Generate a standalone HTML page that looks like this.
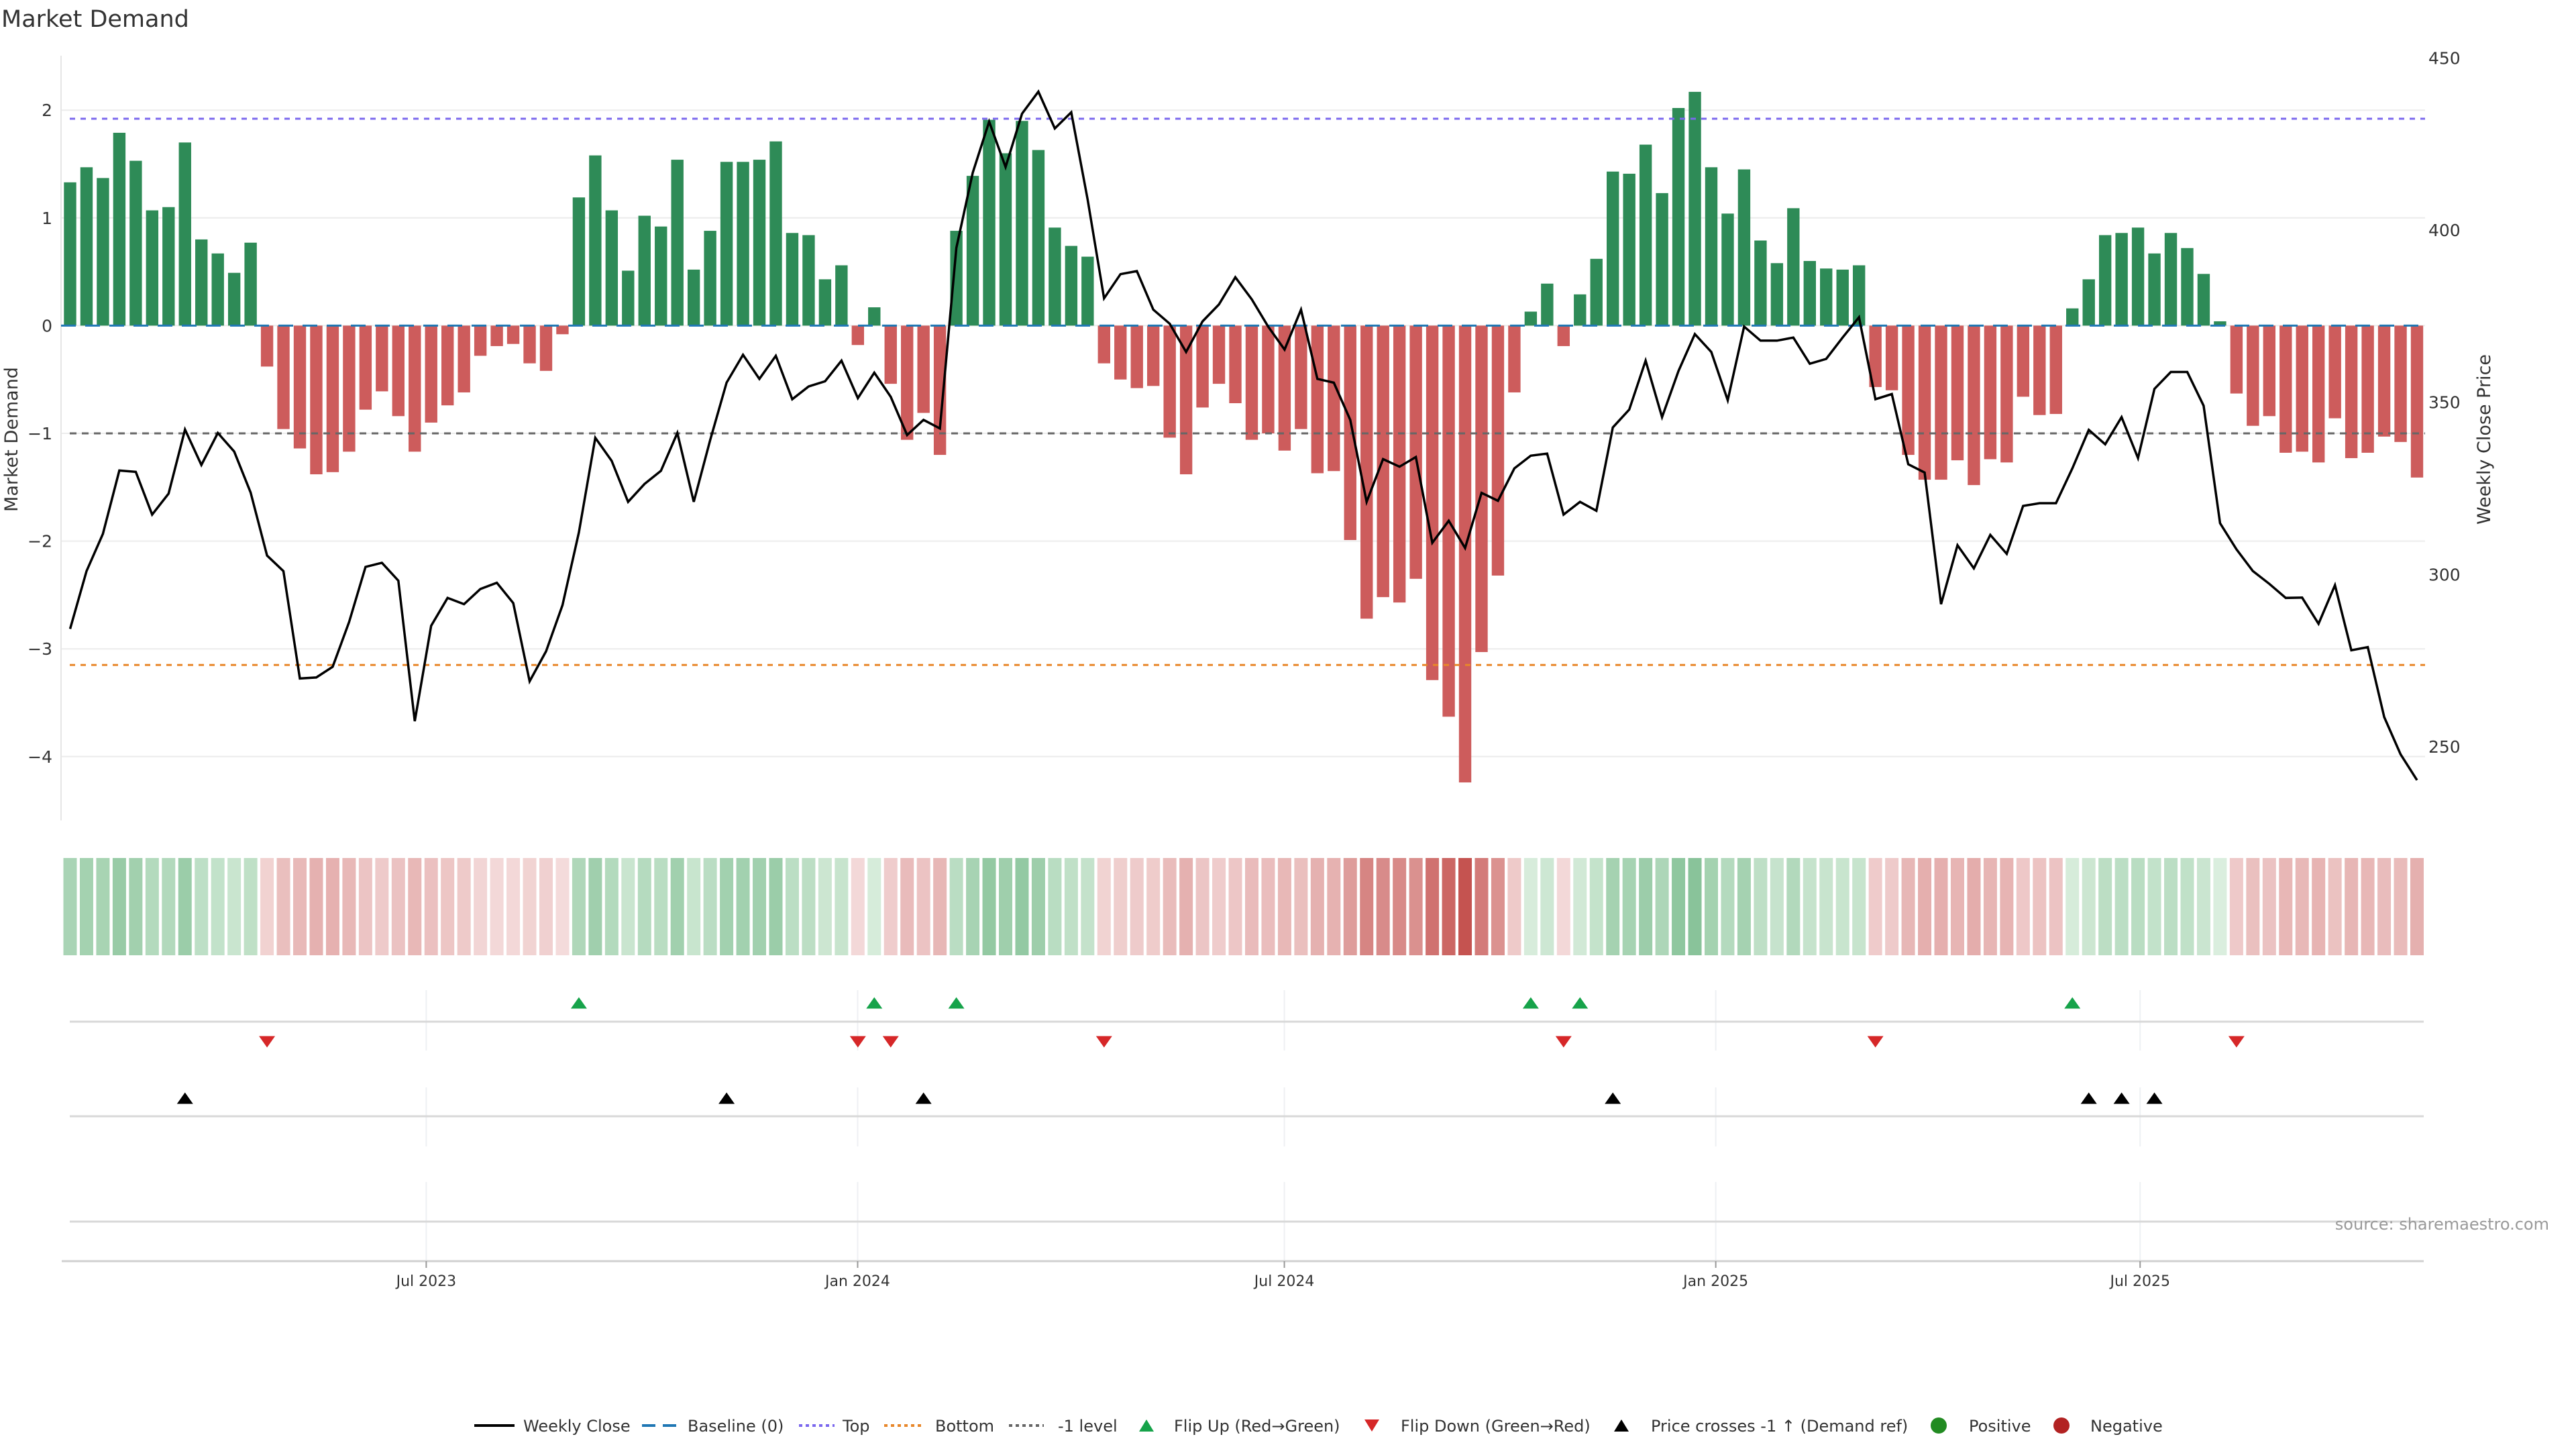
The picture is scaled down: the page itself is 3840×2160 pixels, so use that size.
<!DOCTYPE html>
<html><head><meta charset="utf-8"><title>Market Demand</title>
<style>
html,body{margin:0;padding:0;background:#fff;}
svg{display:block;font-family:"DejaVu Sans","Liberation Sans",sans-serif;}
</style></head>
<body>
<svg id="chart" width="3840" height="2160" viewBox="0 0 3840 2160" xmlns="http://www.w3.org/2000/svg">
<rect x="0" y="0" width="3840" height="2160" fill="#ffffff"/>
<text x="2" y="40" font-size="35" fill="#333">Market Demand</text>
<g id="grid"></g>
<g id="bars"></g>
<g id="refs"></g>
<g id="line"></g>
<g id="axes"></g>
<g id="heat"></g>
<g id="events"></g>
<g id="xaxis"></g>
<text x="3800" y="1833" font-size="24" fill="#999" text-anchor="end">source: sharemaestro.com</text>
<text transform="translate(26,655) rotate(-90)" font-size="27" fill="#333" text-anchor="middle">Market Demand</text>
<text transform="translate(3712,655) rotate(-90)" font-size="27" fill="#333" text-anchor="middle">Weekly Close Price</text>
<g id="legend"></g>
</svg>
<script>
const demand = [1.33,1.47,1.37,1.79,1.53,1.07,1.10,1.70,0.80,0.67,0.49,0.77,
-0.38,-0.96,-1.14,-1.38,-1.36,-1.17,-0.78,-0.61,-0.84,-1.17,-0.90,-0.74,-0.62,-0.28,-0.19,-0.17,-0.35,-0.42,-0.08,
1.19,1.58,1.07,0.51,1.02,0.92,1.54,0.52,0.88,1.52,1.52,1.54,1.71,0.86,0.84,0.43,0.56,
-0.18,0.17,-0.54,-1.06,-0.81,-1.20,
0.88,1.39,1.91,1.60,1.90,1.63,0.91,0.74,0.64,
-0.35,-0.50,-0.58,-0.56,-1.04,-1.38,-0.76,-0.54,-0.72,-1.06,-1.00,-1.16,-0.96,-1.37,-1.35,-1.99,-2.72,-2.52,-2.57,-2.35,-3.29,-3.63,-4.24,-3.03,-2.32,-0.62,
0.13,0.39,-0.19,0.29,0.62,1.43,1.41,1.68,1.23,2.02,2.17,1.47,1.04,1.45,0.79,0.58,1.09,0.60,0.53,0.52,0.56,
-0.57,-0.60,-1.20,-1.43,-1.43,-1.25,-1.48,-1.24,-1.27,-0.66,-0.83,-0.82,
0.16,0.43,0.84,0.86,0.91,0.67,0.86,0.72,0.48,0.04,
-0.63,-0.93,-0.84,-1.18,-1.17,-1.27,-0.86,-1.23,-1.18,-1.03,-1.08,-1.41];
const price = [284.2,301.0,311.8,330.2,329.8,317.4,323.5,342.1,331.8,341.1,335.7,323.8,305.5,301.0,269.8,270.1,273.2,286.2,302.2,303.4,298.2,257.4,285.1,293.2,291.4,295.8,297.6,291.7,269.0,277.7,291.1,312.2,339.7,333.0,321.1,326.3,330.1,341.1,321.1,339.0,355.7,363.8,356.8,363.5,350.9,354.6,356.1,362.1,351.2,358.6,351.6,340.5,344.9,342.4,394.8,416.7,431.5,418.3,433.8,440.2,429.5,434.2,408.9,380.2,387.2,388.1,376.9,372.8,364.6,373.5,378.4,386.3,379.9,372.0,365.3,376.9,356.8,355.7,344.9,321.1,333.5,331.3,334.1,309.2,315.6,307.7,323.7,321.4,330.8,334.5,335.1,317.4,321.1,318.5,342.7,347.9,362.1,345.7,359.1,369.8,364.6,350.6,372.0,367.9,367.9,368.8,361.2,362.6,368.8,374.7,350.9,352.4,332.0,329.6,291.4,308.5,301.8,311.5,306.0,319.9,320.7,320.7,330.8,342.0,337.8,345.7,333.8,353.9,358.8,358.8,349.0,314.9,307.3,301.0,297.3,293.2,293.3,285.7,296.9,278.0,278.9,258.6,247.8,240.3];
const flipUp = [32,50,55,90,93,123];
const flipDown = [13,49,51,64,92,111,133];
const priceCross = [8,41,53,95,124,126,128];
const leftTicks = [2,1,0,-1,-2,-3,-4];
const leftTickLabels = ["2","1","0","\u22121","\u22122","\u22123","\u22124"];
const rightTicks = [450,400,350,300,250];
const xTickLabels = ["Jul 2023","Jan 2024","Jul 2024","Jan 2025","Jul 2025"];
const xTickDates = ["2023-07-01","2024-01-01","2024-07-01","2025-01-01","2025-07-01"];
const refTop = 1.92, refBottom = -3.15, refMinus1 = -1;

const NS = "http://www.w3.org/2000/svg";
function mk(tag, attrs, parent){const e=document.createElementNS(NS,tag);for(const k in attrs)e.setAttribute(k,attrs[k]);parent.appendChild(e);return e;}
const X0 = 104.5, STEP = 24.465;
function xBar(i){return X0 + STEP*i;}
function yL(v){return 485.4 - v*160.6;}
function yR(p){return 343 - (p-400)*5.134;}
const startMs = Date.UTC(2023,6,1) - 151.9*86400000;
function xDate(s){const d=new Date(s+"T00:00:00Z").getTime();return X0 + (d-startMs)/86400000/7*STEP;}
const PL=91, PR=3615;

const grid=document.getElementById('grid');
leftTicks.forEach((t,k)=>{
  const g=mk('line',{x1:PL,x2:PR,y1:yL(t),y2:yL(t),stroke:'#ececec','stroke-width':2},grid);
  
  
});
const spine=mk('line',{x1:PL,x2:PL,y1:83,y2:1223,stroke:'#e6e6e6','stroke-width':2},grid);



const bars=document.getElementById('bars');
demand.forEach((v,i)=>{
  const y0=yL(0), y1=yL(v);
  const r=mk('rect',{x:xBar(i)-9.2,width:18.4,y:Math.min(y0,y1),height:Math.abs(y1-y0),fill:v>=0?'#2e8b57':'#cd5c5c'},bars);
  
  
});

const refs=document.getElementById('refs');
let rl=mk('line',{x1:PL,x2:PR,y1:yL(0),y2:yL(0),stroke:'#1f77b4','stroke-width':3,'stroke-dasharray':'22 14'},refs);


rl=mk('line',{x1:104,x2:PR,y1:yL(refTop),y2:yL(refTop),stroke:'#7b68ee','stroke-width':3,'stroke-dasharray':'8 8'},refs);


rl=mk('line',{x1:104,x2:PR,y1:yL(refBottom),y2:yL(refBottom),stroke:'#e8872a','stroke-width':3,'stroke-dasharray':'8 8'},refs);


rl=mk('line',{x1:104,x2:PR,y1:yL(refMinus1),y2:yL(refMinus1),stroke:'#666','stroke-width':3,'stroke-dasharray':'10 8'},refs);



const lineG=document.getElementById('line');
const pts=price.map((p,i)=>xBar(i).toFixed(1)+','+yR(p).toFixed(1)).join(' ');
const pl=mk('polyline',{points:pts,fill:'none',stroke:'#000','stroke-width':3.5,'stroke-linejoin':'miter'},lineG);



const axes=document.getElementById('axes');
leftTicks.forEach((t,k)=>{
  const tx=mk('text',{x:78,y:yL(t)+9,'font-size':25,fill:'#333','text-anchor':'end'},axes);
  tx.textContent=leftTickLabels[k];
  
  
});
rightTicks.forEach(t=>{
  const tx=mk('text',{x:3620,y:yR(t)+9,'font-size':25,fill:'#333'},axes);
  tx.textContent=String(t);
  
  
});

function lerp(a,b,t){return a.map((c,j)=>Math.round(c+(b[j]-c)*t));}
const heat=document.getElementById('heat');
demand.forEach((v,i)=>{
  const t=Math.min(1,Math.abs(v)/4.24);
  const c=v>=0?lerp([220,239,223],[58,154,88],t):lerp([245,222,222],[197,83,80],t);
  const r=mk('rect',{x:xBar(i)-10,width:20,y:1279,height:145,fill:'rgb('+c.join(',')+')'},heat);
  
  
});

const ev=document.getElementById('events');
const rowSegs=[[1476,1566],[1621,1709],[1762,1880]];
xTickDates.forEach(d=>{
  rowSegs.forEach(s=>{
    const l=mk('line',{x1:xDate(d),x2:xDate(d),y1:s[0],y2:s[1],stroke:'#eef0f3','stroke-width':2},ev);
    
    
  });
});
[1523,1664,1821].forEach(y=>{
  const l=mk('line',{x1:104,x2:3613,y1:y,y2:y,stroke:'#d8d8d8','stroke-width':3},ev);
  
  
});
function tri(cx,cy,up,fill,name){
  const w=12,h=17;
  const p=up?`${cx-w},${cy+h/2} ${cx+w},${cy+h/2} ${cx},${cy-h/2}`:`${cx-w},${cy-h/2} ${cx+w},${cy-h/2} ${cx},${cy+h/2}`;
  const e=mk('polygon',{points:p,fill:fill},ev);
  
  
}
flipUp.forEach(i=>tri(xBar(i-1),1495,true,'#16a34a','flip-up-marker'));
flipDown.forEach(i=>tri(xBar(i-1),1553,false,'#d62728','flip-down-marker'));
priceCross.forEach(i=>tri(xBar(i-1),1637,true,'#000','price-cross-marker'));

const xa=document.getElementById('xaxis');
const ax=mk('line',{x1:92,x2:3613,y1:1880,y2:1880,stroke:'#d0d0d0','stroke-width':3},xa);


xTickDates.forEach((d,k)=>{
  const x=xDate(d);
  const tk=mk('line',{x1:x,x2:x,y1:1880,y2:1890,stroke:'#999','stroke-width':2},xa);
  
  
  const tx=mk('text',{x:x,y:1917,'font-size':22,fill:'#333','text-anchor':'middle'},xa);
  tx.textContent=xTickLabels[k];
  
  
});

const lg=document.getElementById('legend');
const LY=2125;
function ltext(x,s){const t=mk('text',{x:x,y:LY+9,'font-size':24,fill:'#333'},lg);t.textContent=s;}
function lline(x1,x2,color,dash,w){const l=mk('line',{x1:x1,x2:x2,y1:LY,y2:LY,stroke:color,'stroke-width':w,'stroke-dasharray':dash},lg);}
lline(707,767,'#000','none',4); ltext(780,'Weekly Close');
lline(957,1008,'#1f77b4','20 11',4); ltext(1025,'Baseline (0)');
lline(1191,1244,'#7b68ee','5 5',4); ltext(1256,'Top');
lline(1318,1373,'#e8872a','5 5',4); ltext(1394,'Bottom');
lline(1504,1556,'#666','5 5',4); ltext(1577,'-1 level');
function ltri(cx,up,fill){const w=11,h=18;const p=up?`${cx-w},${LY+h/2} ${cx+w},${LY+h/2} ${cx},${LY-h/2}`:`${cx-w},${LY-h/2} ${cx+w},${LY-h/2} ${cx},${LY+h/2}`;const e=mk('polygon',{points:p,fill:fill},lg);}
ltri(1709,true,'#16a34a'); ltext(1750,'Flip Up (Red\u2192Green)');
ltri(2045,false,'#d62728'); ltext(2088,'Flip Down (Green\u2192Red)');
ltri(2417,true,'#000'); ltext(2461,'Price crosses -1 \u2191 (Demand ref)');
let c=mk('circle',{cx:2890,cy:LY,r:12,fill:'#228b22'},lg);  
ltext(2935,'Positive');
c=mk('circle',{cx:3073,cy:LY,r:12,fill:'#b22222'},lg);  
ltext(3116,'Negative');
</script>
</body></html>
